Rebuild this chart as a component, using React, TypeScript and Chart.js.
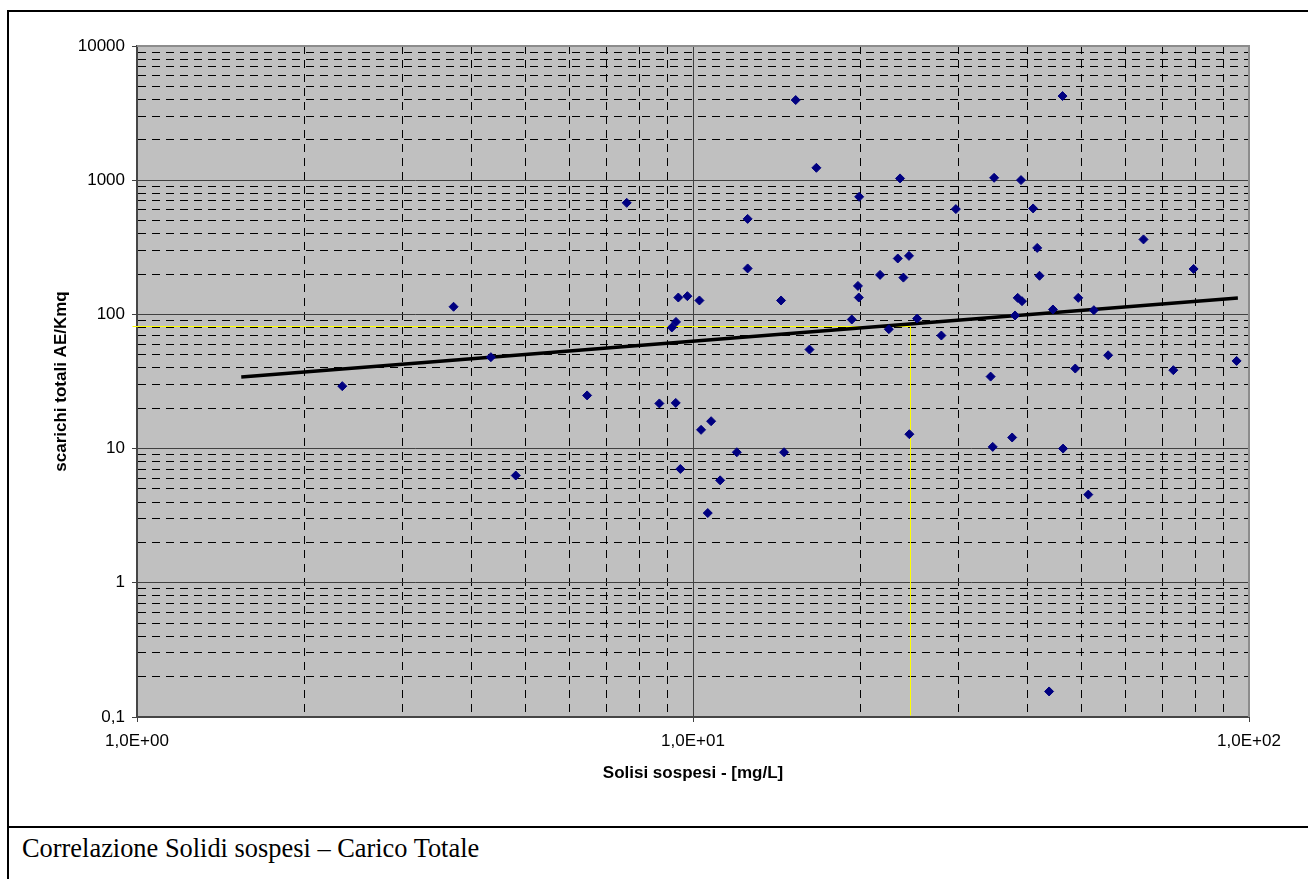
import React, { useEffect, useRef } from 'react';
import { Chart, registerables } from 'chart.js';

Chart.register(...registerables);

// ---- data ----
const X_VALUES = [
  2.34, 3.71, 4.33, 4.8, 6.45, 7.6, 8.7, 9.31, 9.16, 9.32,
  9.41, 9.77, 10.27, 9.49, 10.34, 10.78, 10.63, 11.19, 11.99, 12.54,
  12.54, 14.4, 14.58, 15.3, 16.2, 16.67, 19.9, 19.8, 19.87, 19.3,
  21.7, 22.5, 23.35, 23.9, 24.46, 23.57, 24.5, 25.3, 27.97, 29.7,
  34.3, 34.6, 34.8, 37.5, 37.95, 38.37, 39.06, 38.9, 40.9, 41.6,
  42.0, 44.4, 46.3, 46.2, 43.7, 48.7, 49.3, 51.4, 52.6, 55.8,
  64.6, 73.1, 79.5, 95.0,
];
const Y_VALUES = [
  29.2, 114, 48.0, 6.3, 24.9, 678, 21.7, 21.9, 79.9, 87.9,
  133.6, 136.7, 127, 7.05, 13.8, 16.0, 3.31, 5.8, 9.39, 515,
  220, 127, 9.39, 3956, 54.7, 1237, 752, 163, 133.6, 91.6,
  197, 77.6, 261, 188, 273, 1031, 12.8, 93.1, 69.6, 609,
  34.4, 10.3, 1042, 12.1, 98.2, 132.8, 125.5, 1002, 616, 313,
  194, 108.8, 10.0, 4238, 0.155, 39.5, 132.8, 4.54, 107.5, 49.6,
  362, 38.4, 218, 45.0,
];
const TREND_X = [1.54, 95.5];
const TREND_Y = [34.2, 132.7];
const GUIDE_X = [1, 24.6, 24.6];
const GUIDE_Y = [82.6, 82.6, 0.1];

const X_MAJOR = [1, 10, 100];
const X_MAJOR_LABELS = ['1,0E+00', '1,0E+01', '1,0E+02'];
const Y_MAJOR = [0.1, 1, 10, 100, 1000, 10000];
const Y_MAJOR_LABELS = ['0,1', '1', '10', '100', '1000', '10000'];

const X_TITLE = 'Solisi sospesi - [mg/L]';
const Y_TITLE = 'scarichi totali AE/Kmq';
const CAPTION = 'Correlazione Solidi sospesi \u2013 Carico Totale';

const SANS = "'Liberation Sans', Arial, sans-serif";
const SERIF = "'Liberation Serif', 'Times New Roman', serif";

function logTicks(majors: number[]) {
  const out: { value: number }[] = [];
  for (let i = 0; i < majors.length - 1; i++) {
    for (let m = 1; m <= 9; m++) out.push({ value: m * majors[i] });
  }
  out.push({ value: majors[majors.length - 1] });
  return out;
}

const plotFrame = {
  id: 'plotFrame',
  beforeDraw(chart: any) {
    const { ctx, chartArea: a } = chart;
    ctx.save();
    ctx.fillStyle = '#C0C0C0';
    ctx.fillRect(a.left, a.top, a.right - a.left, a.bottom - a.top);
    ctx.restore();
  },
  afterDraw(chart: any) {
    const { ctx, chartArea: a } = chart;
    ctx.save();
    ctx.strokeStyle = '#8C8C8C';
    ctx.lineWidth = 2;
    ctx.beginPath();
    ctx.moveTo(a.left, a.top);
    ctx.lineTo(a.right, a.top);
    ctx.lineTo(a.right, a.bottom);
    ctx.stroke();
    ctx.restore();
  },
};

// yellow reading guide, positioned through the chart's own scales
const guidePlugin = {
  id: 'guide',
  beforeDatasetsDraw(chart: any) {
    const { ctx, chartArea: a } = chart;
    const xs = chart.scales.x;
    const ys = chart.scales.y;
    ctx.save();
    ctx.strokeStyle = '#FFFF00';
    ctx.lineWidth = 1;
    ctx.beginPath();
    GUIDE_X.forEach((v, i) => {
      let px = Math.round(xs.getPixelForValue(v)) + 0.5;
      let py = Math.round(ys.getPixelForValue(GUIDE_Y[i])) + 0.5;
      if (i === 0) px = a.left - 4.5;
      if (py > a.bottom - 1) py = a.bottom - 1.5;
      if (i === 0) ctx.moveTo(px, py);
      else ctx.lineTo(px, py);
    });
    ctx.stroke();
    ctx.restore();
  },
};

function makeAxis(majors: number[], labels: string[], isX: boolean) {
  const isMajor = (v: number) => majors.indexOf(v) >= 0;
  return {
    type: 'logarithmic',
    position: isX ? 'bottom' : 'left',
    min: majors[0],
    max: majors[majors.length - 1],
    afterBuildTicks: (scale: any) => {
      scale.ticks = logTicks(majors);
    },
    afterFit: (scale: any) => {
      if (isX) scale.height = 109;
      else scale.width = 137;
    },
    ticks: {
      autoSkip: false,
      maxRotation: 0,
      minRotation: 0,
      padding: isX ? 9 : 7,
      color: '#000000',
      font: { family: SANS, size: 17 },
      callback: (value: number) => {
        const i = majors.indexOf(value);
        return i >= 0 ? labels[i] : '';
      },
    },
    grid: {
      drawTicks: true,
      tickLength: 5,
      lineWidth: 1,
      color: (c: any) => (c.tick && isMajor(c.tick.value) ? '#404040' : '#000000'),
      tickColor: (c: any) => (c.tick && isMajor(c.tick.value) ? '#404040' : 'rgba(0,0,0,0)'),
      tickWidth: 1,
    },
    border: {
      display: true,
      color: '#454545',
      width: 2,
      dash: (c: any) => (c.tick && !isMajor(c.tick.value) ? [8, 6] : []),
    },
    title: {
      display: true,
      text: isX ? X_TITLE : Y_TITLE,
      color: '#000000',
      font: { family: SANS, size: 17, weight: 'bold' },
      padding: isX ? { top: 0, bottom: 42 } : { top: 51, bottom: 0 },
    },
  };
}

export default function App() {
  const canvasRef = useRef<HTMLCanvasElement | null>(null);

  useEffect(() => {
    const canvas = canvasRef.current;
    if (!canvas) return;
    const points = X_VALUES.map((x, i) => ({ x, y: Y_VALUES[i] }));
    const trend = TREND_X.map((x, i) => ({ x, y: TREND_Y[i] }));

    const chart = new Chart(canvas, {
      type: 'scatter',
      data: {
        datasets: [
          {
            label: 'dati',
            data: points,
            pointStyle: 'rectRot',
            pointRadius: 4.5,
            pointBackgroundColor: '#000080',
            pointBorderColor: '#000080',
            pointBorderWidth: 1,
            showLine: false,
            order: 1,
          } as any,
          {
            label: 'trend',
            data: trend,
            showLine: true,
            borderColor: '#000000',
            borderWidth: 3.5,
            pointRadius: 0,
            order: 2,
          } as any,
        ],
      },
      options: {
        responsive: false,
        animation: false,
        devicePixelRatio: 1,
        layout: { padding: { top: 46, right: 59, left: 0, bottom: 0 } },
        plugins: {
          legend: { display: false },
          tooltip: { enabled: false },
        },
        scales: {
          x: makeAxis(X_MAJOR, X_MAJOR_LABELS, true) as any,
          y: makeAxis(Y_MAJOR, Y_MAJOR_LABELS, false) as any,
        },
      },
      plugins: [plotFrame, guidePlugin],
    });
    return () => chart.destroy();
  }, []);

  return (
    <div
      style={{
        position: 'fixed',
        left: 0,
        top: 0,
        width: 1308,
        height: 879,
        overflow: 'hidden',
        background: '#ffffff',
      }}
    >
      <canvas
        ref={canvasRef}
        width={1308}
        height={826}
        style={{ position: 'absolute', left: 0, top: 0, width: 1308, height: 826, display: 'block' }}
      />
      <div style={{ position: 'absolute', left: 7, top: 10, width: 1301, height: 2, background: '#000' }} />
      <div style={{ position: 'absolute', left: 7, top: 10, width: 2, height: 869, background: '#000' }} />
      <div style={{ position: 'absolute', left: 7, top: 826, width: 1301, height: 2, background: '#000' }} />
      <div
        style={{
          position: 'absolute',
          left: 22,
          top: 835,
          fontFamily: SERIF,
          fontSize: 26.4,
          lineHeight: '27px',
          color: '#000',
          whiteSpace: 'nowrap',
        }}
      >
        {CAPTION}
      </div>
    </div>
  );
}
